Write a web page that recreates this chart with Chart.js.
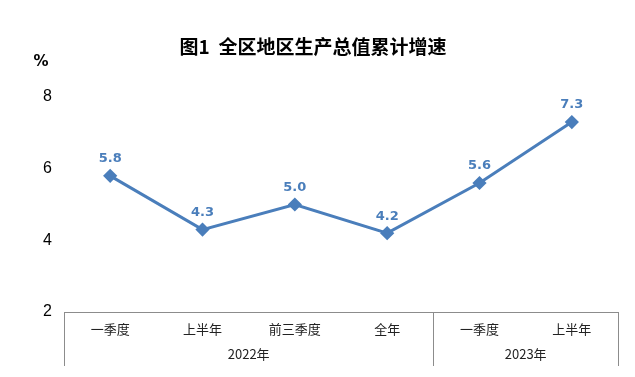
<!DOCTYPE html>
<html><head><meta charset="utf-8">
<script src="https://cdn.jsdelivr.net/npm/chart.js@4/dist/chart.umd.min.js"></script>
<style>html,body{margin:0;padding:0;background:#fff}#wrap{width:635px;height:377px}</style>
</head><body><div id="wrap"><canvas id="c" width="635" height="377"></canvas></div>
<script>
const categories = ["一季度","上半年","前三季度","全年","一季度","上半年"];
const years = ["2022年","2023年"];
const yearSpans = [4, 2];
const growth = [5.8, 4.3, 5.0, 4.2, 5.6, 7.3];
const titleText = "图1  全区地区生产总值累计增速";
const unitText = "%";

const blue = "#4a7ebb";
const cjk = "'Noto Sans CJK SC', sans-serif";

const overlay = {
  id: "overlay",
  afterDraw(chart) {
    const ctx = chart.ctx, x = chart.scales.x, y = chart.scales.y, a = chart.chartArea;
    ctx.save();
    // title
    ctx.fillStyle = "#000";
    ctx.font = "bold 19px " + cjk;
    ctx.textAlign = "center"; ctx.textBaseline = "middle";
    ctx.fillText(titleText, 313, 47);
    ctx.font = "bold 15px 'DejaVu Sans', sans-serif";
    ctx.fillText(unitText, 41, 62);
    // data labels
    ctx.fillStyle = blue;
    ctx.font = "bold 13px 'DejaVu Sans', sans-serif";
    const meta = chart.getDatasetMeta(0);
    meta.data.forEach((p, i) => {
      ctx.fillText(growth[i].toFixed(1), p.x, p.y - 17);
    });
    // category box
    const half = (x.getPixelForValue(1) - x.getPixelForValue(0)) / 2;
    const bottom = a.bottom + 54;
    ctx.strokeStyle = "#8c8c8c"; ctx.lineWidth = 1;
    ctx.beginPath();
    ctx.moveTo(a.left, a.bottom + 0.5); ctx.lineTo(a.right, a.bottom + 0.5);
    ctx.stroke();
    let start = 0;
    const bounds = [start];
    yearSpans.forEach(s => { start += s; bounds.push(start); });
    ctx.beginPath();
    bounds.forEach(b => {
      const px = Math.round(x.getPixelForValue(b) - half) + 0.5;
      ctx.moveTo(px, a.bottom); ctx.lineTo(px, bottom);
    });
    ctx.stroke();
    ctx.fillStyle = "#222";
    ctx.font = "13px " + cjk;
    categories.forEach((c, i) => ctx.fillText(c, x.getPixelForValue(i), a.bottom + 17));
    for (let k = 0; k < years.length; k++) {
      const l = x.getPixelForValue(bounds[k]) - half, r = x.getPixelForValue(bounds[k + 1]) - half;
      ctx.fillText(years[k], (l + r) / 2, a.bottom + 42);
    }
    ctx.restore();
  }
};

new Chart(document.getElementById("c"), {
  type: "line",
  data: {
    labels: categories,
    datasets: [{
      data: growth,
      borderColor: blue, backgroundColor: blue,
      borderWidth: 3, pointStyle: "rectRot", pointRadius: 5, pointHoverRadius: 5,
      tension: 0, clip: false
    }]
  },
  options: {
    responsive: false, animation: false,
    layout: { padding: { left: 24, right: 17, top: 97, bottom: 65 } },
    plugins: { legend: { display: false }, tooltip: { enabled: false } },
    scales: {
      x: { display: true, offset: true, ticks: { display: false }, grid: { display: false, drawTicks: false, offset: true }, border: { display: false } },
      y: {
        min: 2, max: 8,
        ticks: { stepSize: 2, color: "#000", padding: 12, font: { size: 16, family: "'Liberation Sans', sans-serif" } },
        grid: { display: false, drawTicks: false }, border: { display: false },
        afterFit(s) { s.width = 40; }
      }
    }
  },
  plugins: [overlay]
});
</script></body></html>
